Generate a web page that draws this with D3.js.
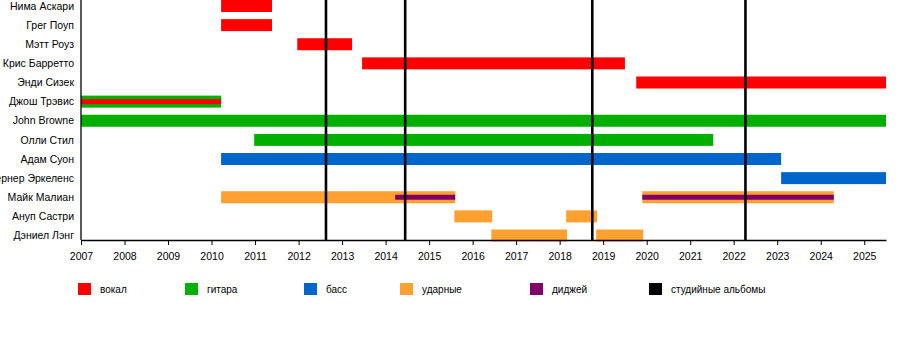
<!DOCTYPE html>
<html>
<head>
<meta charset="utf-8">
<script src="https://cdn.jsdelivr.net/npm/d3@7"></script>
<style>
  body { margin: 0; background: #fff; }
  svg text { font-family: "Liberation Sans", Arial, sans-serif; fill: #000; }
</style>
</head>
<body>
<svg id="chart" width="900" height="340"></svg>
<script>
// band members, top to bottom
var members = ["Нима Аскари", "Грег Поуп", "Мэтт Роуз", "Крис Барретто", "Энди Сизек",
  "Джош Трэвис", "John Browne", "Олли Стил", "Адам Суон", "Вернер Эркеленс",
  "Майк Малиан", "Ануп Састри", "Дэниел Лэнг"];

var roles = ["вокал", "гитара", "басс", "ударные", "диджей", "студийные альбомы"];
var roleColors = ["#ff0000", "#00b000", "#0066cc", "#ffa030", "#800066", "#000000"];

// [member, role, from, to]
var periods = [
  ["Нима Аскари", "вокал", 2010.22, 2011.39],
  ["Грег Поуп", "вокал", 2010.22, 2011.39],
  ["Мэтт Роуз", "вокал", 2011.97, 2013.23],
  ["Крис Барретто", "вокал", 2013.46, 2019.5],
  ["Энди Сизек", "вокал", 2019.76, 2025.5],
  ["Джош Трэвис", "гитара", 2007, 2010.22],
  ["John Browne", "гитара", 2007, 2025.5],
  ["Олли Стил", "гитара", 2010.98, 2021.53],
  ["Адам Суон", "басс", 2010.22, 2023.09],
  ["Вернер Эркеленс", "басс", 2023.09, 2025.5],
  ["Майк Малиан", "ударные", 2010.22, 2015.6],
  ["Майк Малиан", "ударные", 2019.9, 2024.3],
  ["Ануп Састри", "ударные", 2015.58, 2016.45],
  ["Ануп Састри", "ударные", 2018.15, 2018.86],
  ["Дэниел Лэнг", "ударные", 2016.43, 2018.17],
  ["Дэниел Лэнг", "ударные", 2018.84, 2019.92]
];

// secondary roles drawn as a thin stripe inside the main bar
var stripes = [
  ["Джош Трэвис", "вокал", 2007, 2010.22],
  ["Майк Малиан", "диджей", 2014.22, 2015.6],
  ["Майк Малиан", "диджей", 2019.9, 2024.3]
];

var albums = [2012.63, 2014.45, 2018.75, 2022.27];
var years = d3.range(2007, 2026);

// layout
var legendX = [78, 185, 304, 400, 530, 649];

var svg = d3.select("#chart");
var color = d3.scaleOrdinal().domain(roles).range(roleColors);
var x = d3.scaleLinear().domain([2007, 2025.5]).range([81, 886]);
var y = d3.scalePoint().domain(members).range([6, 235.5]);
var axisY = 240;

svg.append("g").selectAll("rect")
  .data(periods)
  .enter().append("rect")
  .attr("x", function(d) { return x(d[2]); })
  .attr("width", function(d) { return x(d[3]) - x(d[2]); })
  .attr("y", function(d) { return y(d[0]) - 6; })
  .attr("height", 12)
  .attr("fill", function(d) { return color(d[1]); });

svg.append("g").selectAll("rect")
  .data(stripes)
  .enter().append("rect")
  .attr("x", function(d) { return x(d[2]); })
  .attr("width", function(d) { return x(d[3]) - x(d[2]); })
  .attr("y", function(d) { return y(d[0]) - 2.5; })
  .attr("height", 5)
  .attr("fill", function(d) { return color(d[1]); });

// studio albums
svg.append("g").selectAll("line")
  .data(albums)
  .enter().append("line")
  .attr("x1", function(d) { return x(d); })
  .attr("x2", function(d) { return x(d); })
  .attr("y1", 0)
  .attr("y2", axisY)
  .attr("stroke", "#000")
  .attr("stroke-width", 2.6);

// axes
var xAxis = d3.axisBottom(x)
  .tickValues(years)
  .tickFormat(d3.format("d"))
  .tickSizeInner(5)
  .tickSizeOuter(0);

var gx = svg.append("g")
  .attr("transform", "translate(0," + axisY + ")")
  .call(xAxis);
gx.selectAll("text").style("font-size", "10.5px").attr("y", 9).attr("dy", "1em");
gx.select(".domain").attr("stroke-width", 1.3);

svg.append("line")
  .attr("x1", x(2007)).attr("x2", x(2007))
  .attr("y1", 0).attr("y2", axisY)
  .attr("stroke", "#000")
  .attr("stroke-width", 1.3);

svg.append("g").selectAll("text")
  .data(members)
  .enter().append("text")
  .attr("x", 74)
  .attr("y", function(d) { return y(d); })
  .attr("dy", "0.35em")
  .attr("text-anchor", "end")
  .style("font-size", "10.5px")
  .text(function(d) { return d; });

// legend
var legend = svg.append("g").selectAll("g")
  .data(roles)
  .enter().append("g")
  .attr("transform", function(d, i) { return "translate(" + legendX[i] + ",283)"; });

legend.append("rect")
  .attr("width", 13)
  .attr("height", 12)
  .attr("fill", function(d) { return color(d); });

legend.append("text")
  .attr("x", 22)
  .attr("y", 6)
  .attr("dy", "0.35em")
  .style("font-size", "10px")
  .text(function(d) { return d; });
</script>
</body>
</html>
